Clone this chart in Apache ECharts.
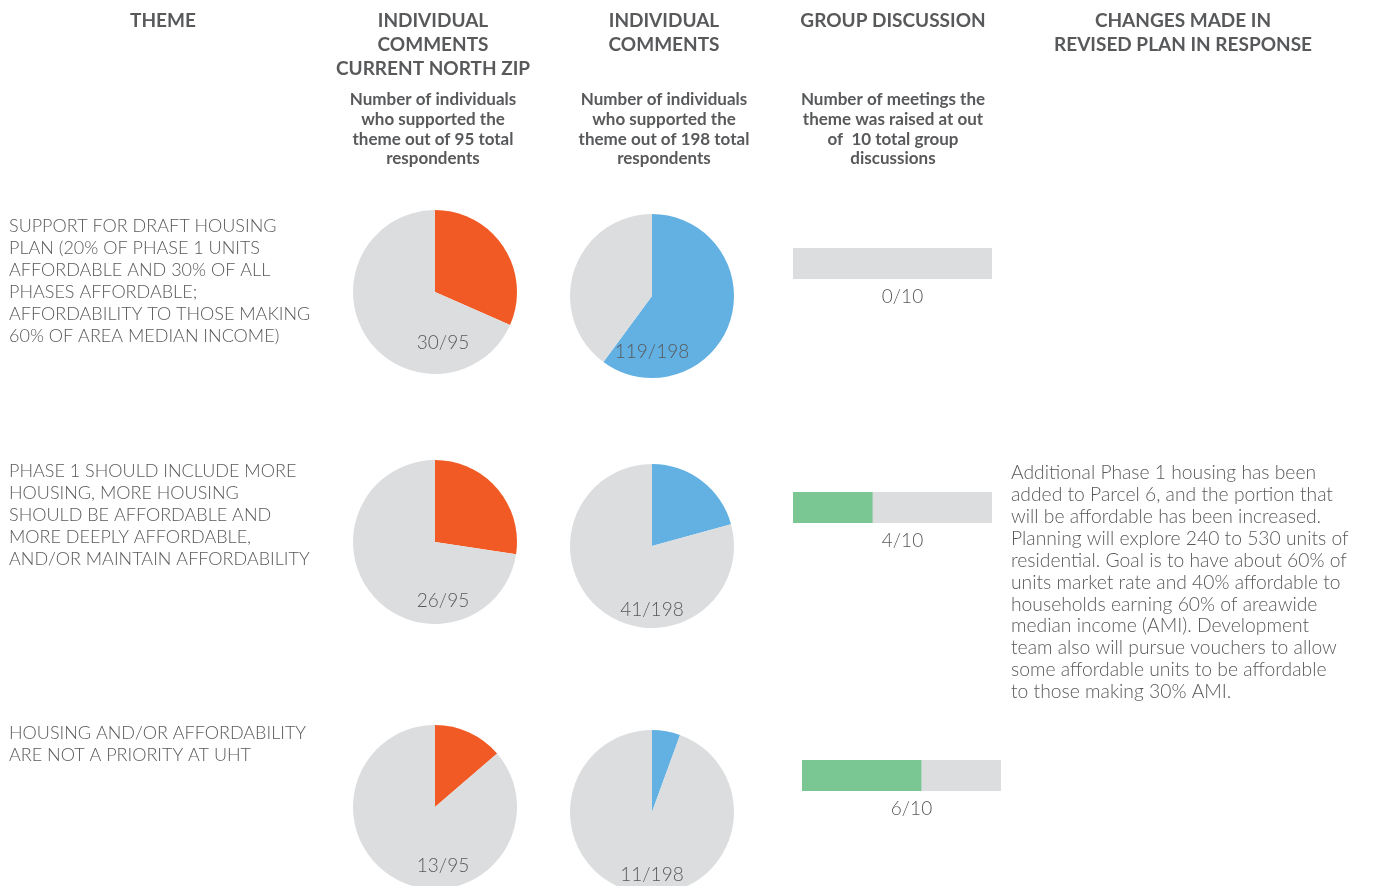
<!DOCTYPE html>
<html>
<head>
<meta charset="utf-8">
<title>Housing themes</title>
<script src="https://cdn.jsdelivr.net/npm/echarts@6/dist/echarts.min.js"></script>
<style>
  html, body { margin: 0; padding: 0; background: #fff; }
  #chart { width: 1382px; height: 886px; }
</style>
</head>
<body>
<div id="chart"></div>
<script>
// column headers
const headers = [
  "THEME",
  "INDIVIDUAL\nCOMMENTS\nCURRENT NORTH ZIP",
  "INDIVIDUAL\nCOMMENTS",
  "GROUP DISCUSSION",
  "CHANGES MADE IN\nREVISED PLAN IN RESPONSE"
];
const subheaders = [
  "",
  "Number of individuals\nwho supported the\ntheme out of 95 total\nrespondents",
  "Number of individuals\nwho supported the\ntheme out of 198 total\nrespondents",
  "Number of meetings the\ntheme was raised at out\nof  10 total group\ndiscussions",
  ""
];

// rows
const themes = [
  "SUPPORT FOR DRAFT HOUSING\nPLAN (20% OF PHASE 1 UNITS\nAFFORDABLE AND 30% OF ALL\nPHASES AFFORDABLE;\nAFFORDABILITY TO THOSE MAKING\n60% OF AREA MEDIAN INCOME)",
  "PHASE 1 SHOULD INCLUDE MORE\nHOUSING, MORE HOUSING\nSHOULD BE AFFORDABLE AND\nMORE DEEPLY AFFORDABLE,\nAND/OR MAINTAIN AFFORDABILITY",
  "HOUSING AND/OR AFFORDABILITY\nARE NOT A PRIORITY AT UHT"
];
const northSupport = [30, 26, 13];
const northTotal = 95;
const allSupport = [119, 41, 11];
const allTotal = 198;
const groupMeetings = [0, 4, 6];
const groupTotal = 10;
const responses = [
  "",
  "Additional Phase 1 housing has been\nadded to Parcel 6, and the portion that\nwill be affordable has been increased.\nPlanning will explore 240 to 530 units of\nresidential. Goal is to have about 60% of\nunits market rate and 40% affordable to\nhouseholds earning 60% of areawide\nmedian income (AMI). Development\nteam also will pursue vouchers to allow\nsome affordable units to be affordable\nto those making 30% AMI.",
  ""
];

// colours
const ORANGE = "#F15A24";
const BLUE = "#62B1E2";
const GREEN = "#7AC794";
const GREY = "#DCDDDF";
const TEXT = "#58595B";
const FONT = "Lato, 'Open Sans', sans-serif";

// layout
const headerX = [163, 433, 664, 893, 1183];
const rowTextY = [215, 460, 722];
const pieR = 82;
const pieNorth = [[435, 292], [435, 542], [435, 807]];
const pieAll = [[652, 296], [652, 546], [652, 812]];
const pieLabelDy = [[51, 56], [59, 64], [59, 63]];
const barBox = [[793, 248], [793, 492], [802, 760]];
const barW = 199, barH = 31;

const chart = echarts.init(document.getElementById("chart"));

const graphic = [];
headers.forEach((h, i) => {
  graphic.push({
    type: "text", x: headerX[i], y: 9, z: 10,
    style: { text: h, align: "center", verticalAlign: "top", fontFamily: FONT,
      fontWeight: "bold", fontSize: 19, lineHeight: 24, fill: TEXT }
  });
  if (subheaders[i]) {
    graphic.push({
      type: "text", x: headerX[i], y: 90, z: 10,
      style: { text: subheaders[i], align: "center", verticalAlign: "top", fontFamily: FONT,
        fontWeight: "bold", fontSize: 17, lineHeight: 19.7, fill: TEXT }
    });
  }
});

const series = [];
const grids = [], xAxes = [], yAxes = [];

themes.forEach((t, r) => {
  graphic.push({
    type: "text", x: 9, y: rowTextY[r], z: 10,
    style: { text: t, align: "left", verticalAlign: "top", fontFamily: FONT,
      fontWeight: 300, fontSize: 18, lineHeight: 22, fill: TEXT }
  });
  if (responses[r]) {
    graphic.push({
      type: "text", x: 1011, y: 462, z: 10,
      style: { text: responses[r], align: "left", verticalAlign: "top", fontFamily: FONT,
        fontWeight: 300, fontSize: 19.3, lineHeight: 21.9, fill: TEXT }
    });
  }

  // pies
  [[pieNorth[r], northSupport[r], northTotal, ORANGE, pieLabelDy[r][0]],
   [pieAll[r], allSupport[r], allTotal, BLUE, pieLabelDy[r][1]]].forEach(([c, v, tot, col, dy]) => {
    series.push({
      type: "pie", center: c, radius: pieR, startAngle: 90, clockwise: true,
      silent: true, label: { show: false }, labelLine: { show: false },
      emphasis: { disabled: true }, z: 1,
      data: [
        { value: v, itemStyle: { color: col } },
        { value: tot - v, itemStyle: { color: GREY } }
      ]
    });
    graphic.push({
      type: "text", x: c[0] + 8 * (col === ORANGE), y: c[1] + dy, z: 10,
      style: { text: v + "/" + tot, align: "center", verticalAlign: "middle", fontFamily: FONT,
        fontWeight: 300, fontSize: 19, fill: TEXT }
    });
  });

  // group discussion bar
  grids.push({ left: barBox[r][0], top: barBox[r][1], width: barW, height: barH });
  xAxes.push({ gridIndex: r, type: "value", min: 0, max: groupTotal, show: false });
  yAxes.push({ gridIndex: r, type: "category", data: [""], show: false });
  series.push({
    type: "bar", xAxisIndex: r, yAxisIndex: r, barWidth: "100%", silent: true,
    data: [groupMeetings[r]], itemStyle: { color: GREEN },
    showBackground: true, backgroundStyle: { color: GREY }
  });
  graphic.push({
    type: "text", x: barBox[r][0] + barW / 2 + 10, y: barBox[r][1] + barH + 18, z: 10,
    style: { text: groupMeetings[r] + "/" + groupTotal, align: "center", verticalAlign: "middle",
      fontFamily: FONT, fontWeight: 300, fontSize: 19, fill: TEXT }
  });
});

chart.setOption({
  animation: false,
  grid: grids,
  xAxis: xAxes,
  yAxis: yAxes,
  series: series,
  graphic: graphic
});
</script>
</body>
</html>
